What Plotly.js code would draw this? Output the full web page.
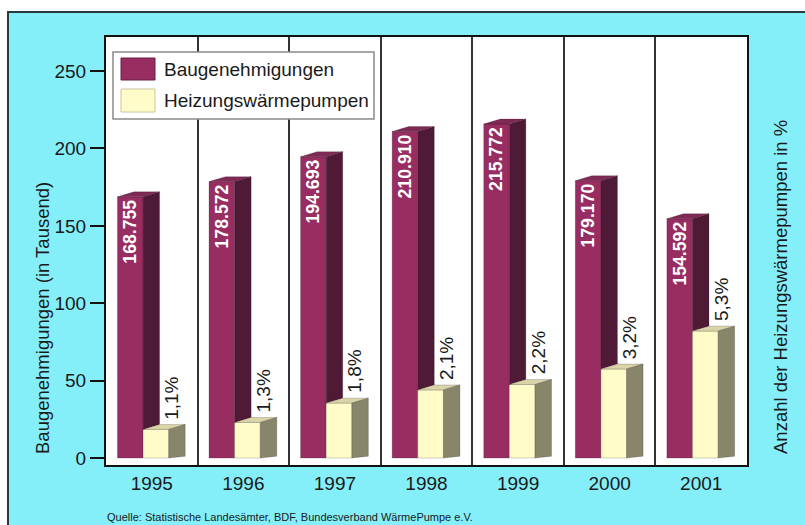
<!DOCTYPE html>
<html>
<head>
<meta charset="utf-8">
<script src="https://cdn.plot.ly/plotly-3.0.1.min.js"></script>
<style>
html,body{margin:0;padding:0;background:#fff;}
#chart{width:805px;height:525px;}
</style>
</head>
<body>
<div id="chart"></div>
<script>
// ---- data ----
var years = ['1995','1996','1997','1998','1999','2000','2001'];
var baugenehmigungen = [168.755, 178.572, 194.693, 210.910, 215.772, 179.170, 154.592]; // in Tausend
var waermepumpen = [18.5, 23.0, 35.5, 44.0, 47.5, 57.5, 82.0]; // bar heights on left axis
var anteilProzent = [1.1, 1.3, 1.8, 2.1, 2.2, 3.2, 5.3];
var yTicks = [0, 50, 100, 150, 200, 250];

// ---- geometry (style) ----
var FONT = 'Liberation Sans, Arial, sans-serif';
var pos = years.map(function(_, i){ return i; });
var W = 0.28;          // front face width (category units)
var OFF_P = -0.375;    // purple bar offset
var OFF_C = OFF_P + W; // cream bar offset
var DX = 0.18;         // depth in x
var DY = 3.2;          // depth in y at top
var DYB = 1.2;         // depth in y at bottom

var colP = '#982d62', colPside = '#4f1a35', colPtop = '#7e2a55';
var colC = '#fffcc9', colCside = '#87866a', colCtop = '#d9d5a8';

function polys(fn){
  var xs = [], ys = [];
  pos.forEach(function(p, i){
    var pts = fn(p, i);
    pts.forEach(function(pt){ xs.push(pt[0]); ys.push(pt[1]); });
    xs.push(pts[0][0]); ys.push(pts[0][1]);
    xs.push(null); ys.push(null);
  });
  return {x: xs, y: ys};
}

var pSide = polys(function(p, i){
  var x1 = p + OFF_P + W, v = baugenehmigungen[i], c = waermepumpen[i];
  return [[x1, c], [x1, v], [x1 + DX, v + DY], [x1 + DX, c + DY]];
});
var pTop = polys(function(p, i){
  var x0 = p + OFF_P, x1 = x0 + W, v = baugenehmigungen[i];
  return [[x0, v], [x1, v], [x1 + DX, v + DY], [x0 + DX, v + DY]];
});
var cSide = polys(function(p, i){
  var x1 = p + OFF_C + W, c = waermepumpen[i];
  return [[x1, 0], [x1, c], [x1 + DX, c + DY], [x1 + DX, DYB]];
});
var cTop = polys(function(p, i){
  var x0 = p + OFF_C, x1 = x0 + W, c = waermepumpen[i];
  return [[x0, c], [x1, c], [x1 + DX, c + DY], [x0 + DX, c + DY]];
});

function face(d, color){
  return {type:'scatter', mode:'lines', x:d.x, y:d.y, fill:'toself', fillcolor:color,
          line:{color:'rgba(40,20,30,0.35)', width:0.6}, hoverinfo:'skip', showlegend:false};
}

var traces = [
  {type:'bar', name:'Baugenehmigungen', x:pos, y:baugenehmigungen, width:W, offset:OFF_P,
   marker:{color:colP, line:{color:'rgba(40,20,30,0.35)', width:0.6}},
   text: baugenehmigungen.map(function(v){ return v.toFixed(3); }),
   textposition:'inside', insidetextanchor:'end', textangle:-90,
   textfont:{family:FONT, size:18, color:'#ffffff', weight:'bold'},
   showlegend:false, hoverinfo:'skip'},
  {type:'bar', name:'Heizungswärmepumpen', x:pos, y:waermepumpen, width:W, offset:OFF_C,
   marker:{color:colC, line:{color:'rgba(60,60,40,0.4)', width:0.6}},
   showlegend:false, hoverinfo:'skip'},
  face(pSide, colPside),
  face(pTop, colPtop),
  face(cTop, colCtop),
  face(cSide, colCside)
];

// paper coordinate helpers (plot area: x 106..747, y 37..465)
function px(x){ return (x - 106) / 641; }
function py(y){ return (465 - y) / 428; }

var annotations = anteilProzent.map(function(a, i){
  return {xref:'x', yref:'y', x: pos[i] + 0.22, y: waermepumpen[i] + DY,
          text: a.toFixed(1).replace('.', ',') + '%', textangle:-90,
          showarrow:false, xanchor:'center', yanchor:'bottom', yshift:3,
          font:{family:FONT, size:19, color:'#1a1a1a'}};
});
annotations.push(
  {xref:'paper', yref:'paper', x:px(42), y:py(318), text:'Baugenehmigungen (in Tausend)', textangle:-90,
   showarrow:false, xanchor:'center', yanchor:'middle', font:{family:FONT, size:18.5, color:'#1a1a1a'}},
  {xref:'paper', yref:'paper', x:px(780), y:py(287), text:'Anzahl der Heizungswärmepumpen in %', textangle:-90,
   showarrow:false, xanchor:'center', yanchor:'middle', font:{family:FONT, size:18.5, color:'#1a1a1a'}},
  {xref:'paper', yref:'paper', x:px(105), y:py(517), text:'Quelle: Statistische Landesämter, BDF, Bundesverband WärmePumpe e.V.',
   showarrow:false, xanchor:'left', yanchor:'middle', font:{family:FONT, size:11, color:'#1a1a1a'}},
  {xref:'paper', yref:'paper', x:px(162), y:py(69), text:'Baugenehmigungen',
   showarrow:false, xanchor:'left', yanchor:'middle', font:{family:FONT, size:19, color:'#1a1a1a'}},
  {xref:'paper', yref:'paper', x:px(162), y:py(100), text:'Heizungswärmepumpen',
   showarrow:false, xanchor:'left', yanchor:'middle', font:{family:FONT, size:19, color:'#1a1a1a'}}
);

var shapes = [
  {type:'rect', xref:'paper', yref:'paper', x0:px(8), x1:px(830), y0:py(12), y1:py(560),
   fillcolor:'#84eff9', line:{color:'#2a3a3c', width:2}, layer:'below'},
  {type:'rect', xref:'paper', yref:'paper', x0:0, x1:1, y0:0, y1:1,
   fillcolor:'#ffffff', line:{width:0}, layer:'below'},
  // legend box & swatches
  {type:'rect', xref:'paper', yref:'paper', x0:px(113), x1:px(374), y0:py(119), y1:py(52),
   fillcolor:'#ffffff', line:{color:'#8a8a8a', width:1.5}, layer:'above'},
  {type:'rect', xref:'paper', yref:'paper', x0:px(121), x1:px(155), y0:py(80), y1:py(58),
   fillcolor:colP, line:{color:'#6a2046', width:1}, layer:'above'},
  {type:'rect', xref:'paper', yref:'paper', x0:px(121), x1:px(155), y0:py(112), y1:py(89),
   fillcolor:colC, line:{color:'#c9c6a0', width:1}, layer:'above'}
];

var layout = {
  width:805, height:525,
  margin:{l:106, r:58, t:37, b:60, pad:0},
  paper_bgcolor:'#ffffff', plot_bgcolor:'rgba(0,0,0,0)',
  showlegend:false, hovermode:false, barmode:'overlay',
  font:{family:FONT, color:'#1a1a1a'},
  xaxis:{range:[-0.5, 6.5], tickmode:'array', tickvals:pos, ticktext:years,
         ticks:'', ticklabelstandoff:0, showgrid:false, zeroline:false,
         showline:true, mirror:true, linecolor:'#111', linewidth:2,
         tickfont:{family:FONT, size:19, color:'#1a1a1a'},
         minor:{tick0:0.5, dtick:1, showgrid:true, gridcolor:'#333', gridwidth:2, ticks:''}},
  yaxis:{range:[-4.5, 272], tickmode:'array', tickvals:yTicks, ticks:'outside', ticklen:14,
         tickwidth:2, tickcolor:'#111', showgrid:false, zeroline:false,
         showline:true, mirror:true, linecolor:'#111', linewidth:2,
         tickfont:{family:FONT, size:19, color:'#1a1a1a'}},
  shapes:shapes, annotations:annotations
};

Plotly.newPlot('chart', traces, layout, {staticPlot:true, displayModeBar:false});
</script>
</body>
</html>
